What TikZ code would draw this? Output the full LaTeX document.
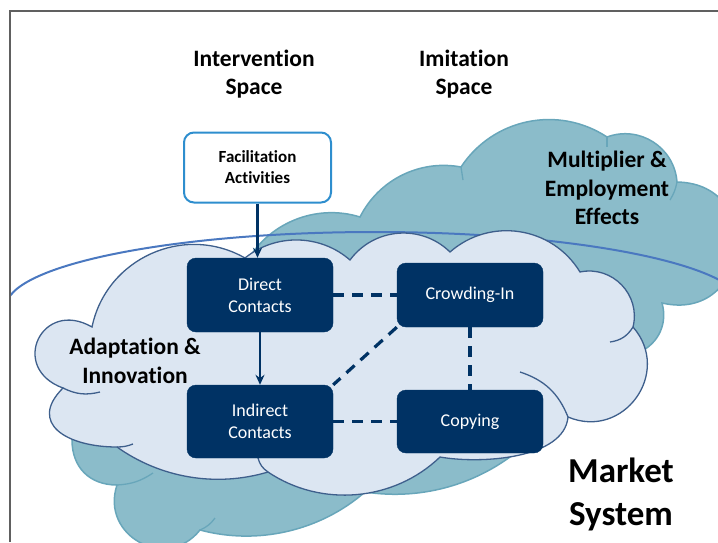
\documentclass[tikz,border=0pt]{standalone}
\usepackage{fontspec}
\setmainfont{Carlito}[Ligatures=NoCommon]
\usetikzlibrary{arrows.meta}
\definecolor{navy}{RGB}{0,50,100}
\definecolor{tealfill}{RGB}{139,188,202}
\definecolor{tealline}{RGB}{104,166,186}
\definecolor{cloudfill}{RGB}{220,230,242}
\definecolor{cloudline}{RGB}{62,95,140}
\definecolor{arcblue}{RGB}{74,120,192}
\definecolor{facblue}{RGB}{46,142,206}
\definecolor{framegray}{RGB}{96,96,96}

\begin{document}
\begin{tikzpicture}[x=1pt,y=1pt,
  box/.style={rectangle,rounded corners=9pt,fill=navy,draw=navy,text=white,
    minimum width=146pt,align=center,inner sep=0pt,font=\fontsize{18}{22}\selectfont},
  heading/.style={align=center,inner sep=0pt,font=\bfseries\fontsize{23.5}{28.5}\selectfont},
  flow/.style={navy,line width=2.2pt,-{Stealth[length=10pt,width=9pt]}},
  link/.style={navy,line width=3.2pt,dash pattern=on 11pt off 8pt},
  crease/.style={line width=1.3pt}]
\useasboundingbox (0,0) rectangle (718,-542);

\begin{scope}
\clip (10,-11) rectangle (718,-542);
% back cloud
\path[draw=tealline,fill=tealfill,line width=1.5pt]
  (117,-485) to[out=180,in=-90,looseness=1.1] (72,-440)
  -- (245,-265)
  to[bend left=40,looseness=0.96] (360,-217)
  to[bend left=37,looseness=0.95] (461,-167)
  to[bend left=45,looseness=1.0] (607,-137)
  to[bend left=53,looseness=1.07] (677,-182)
  to[bend left=96,looseness=1.9] (662,-303)
  to[bend left=40] (640,-352)
  -- (525,-445)
  to[bend left=25,looseness=0.9] (365,-492)
  to[bend left=28,looseness=0.9] (200,-530)
  to[bend left=80,looseness=1.45] (117,-485) -- cycle;
\begin{scope}[tealline,crease]
\draw (117,-485) to[bend right=15] (153,-473);
\draw (200,-530) to[bend right=15] (215,-518);
\draw (461,-167) -- (463,-180);
\draw (607,-137) -- (607,-147);
\draw (677,-182) to[bend left=10] (670,-200);
\end{scope}
% market ellipse
\draw[arcblue,line width=2pt] (6,-307) arc[start angle=180,end angle=0,x radius=369,y radius=75];
% front cloud
\path[draw=cloudline,fill=cloudfill,line width=1.3pt]
  (63,-388) to[out=160,in=150,looseness=2.2] (92,-327)
  to[bend left=54,looseness=1.07] (245,-258)
  to[bend left=40,looseness=0.96] (350,-260)
  to[bend left=49,looseness=1.03] (450,-252)
  to[bend left=50,looseness=1.04] (580,-272)
  to[bend left=58,looseness=1.11] (633,-327)
  to[bend left=77,looseness=1.39] (568,-417)
  to[out=-95,in=-10,looseness=0.8] (440,-457)
  to[bend left=39,looseness=0.95] (268,-472)
  to[bend left=26,looseness=0.9] (117,-447)
  to[out=180,in=225,looseness=1.6] (63,-388) -- cycle;
\begin{scope}[cloudline,crease]
\draw (63,-388) to[bend right=20] (100,-392);
\draw (117,-447) to[bend right=10] (133,-444);
\draw (268,-472) to[bend left=20] (258,-458);
\draw (568,-417) to[bend right=25] (520,-372);
\draw (633,-327) to[bend left=25] (610,-342);
\end{scope}
\end{scope}
\draw[framegray,line width=1.3pt] (10,-542) -- (10,-11) -- (718,-11);

% boxes
\node[draw=facblue,fill=white,line width=2pt,rounded corners=10pt,minimum width=147pt,
  minimum height=70pt,align=center,inner sep=0pt,font=\bfseries\fontsize{17}{21}\selectfont]
  (fac) at (257.5,-167.5) {Facilitation\\Activities};
\node[box,minimum height=74pt] (direct) at (260,-295) {Direct\\Contacts};
\node[box,minimum height=64pt] (crowd) at (470,-295) {Crowding-In};
\node[box,minimum height=73pt] (indirect) at (260,-421.5) {Indirect\\Contacts};
\node[box,minimum height=63pt] (copying) at (470,-421.5) {Copying};

\draw[flow] (fac) -- (fac |- direct.north);
\draw[flow] (direct) -- (indirect);
\draw[link] (direct) -- (crowd);
\draw[link] (crowd.south west) -- (indirect.north east);
\draw[link] (crowd) -- (copying);
\draw[link] (indirect) -- (copying);

% labels
\node[heading] (intspace) at (254,-74) {Intervention\\Space};
\node[heading] (imispace) at (464,-74) {Imitation\\Space};
\node[heading] (multiplier) at (607,-188) {Multiplier \&\\Employment\\Effects};
\node[heading] (adaptation) at (135,-361) {Adaptation \&\\Innovation};
\node[align=center,inner sep=0pt,font=\bfseries\fontsize{35}{43}\selectfont]
  (market) at (621,-494) {Market\\System};
\end{tikzpicture}
\end{document}
